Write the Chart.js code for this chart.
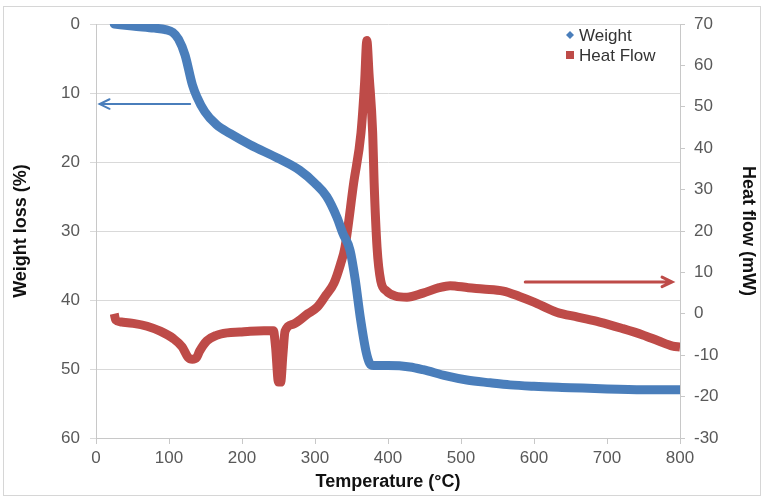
<!DOCTYPE html>
<html>
<head>
<meta charset="utf-8">
<script src="https://cdn.jsdelivr.net/npm/chart.js@4.4.0/dist/chart.umd.min.js"></script>
<style>
  html, body { margin: 0; padding: 0; background: #fff; }
</style>
</head>
<body>
<canvas id="tga" width="763" height="497"></canvas>
<script>
const weightTemp = [25, 50, 80, 95, 105, 113, 122, 132, 138, 149, 165, 184, 211, 250, 279, 300, 316, 330, 338, 348, 355, 362, 370, 375, 380, 400, 430, 448, 480, 508, 540, 567, 600, 650, 700, 750, 800];
const weightLoss = [0, 0.3, 0.6, 0.8, 1.2, 2.2, 4.5, 8.8, 10.5, 12.7, 14.6, 15.9, 17.5, 19.5, 21.2, 23.1, 25, 28, 30.3, 32.8, 37, 42.5, 47.5, 49.2, 49.5, 49.5, 49.7, 50.1, 51, 51.6, 52, 52.3, 52.5, 52.7, 52.9, 53, 53];

const heatTemp = [25, 27, 35, 51, 70, 88, 106, 118, 126, 132, 138, 142, 152, 165, 180, 197, 211, 230, 243, 246, 250, 253, 256, 259, 270, 290, 303, 315, 326, 335, 341, 353, 363, 368, 371, 374, 379, 381, 385, 390, 398, 410, 426, 448, 470, 485, 510, 530, 558, 580, 599, 631, 660, 690, 720, 749, 770, 790, 800];
const heatFlow = [0, -1.5, -2, -2.3, -3, -4.2, -6, -8, -10.5, -11, -10.5, -9, -6.5, -5.2, -4.6, -4.4, -4.2, -4.1, -4.1, -8, -16.5, -16.5, -10, -4.2, -2.5, 0, 1.6, 4.5, 7.4, 12, 16, 31.6, 43.7, 56, 66, 58, 43.7, 31.6, 16, 8, 5.5, 4.3, 4, 5, 6.3, 6.8, 6.3, 6, 5.5, 4.2, 2.9, 0.4, -0.8, -2, -3.5, -5.1, -6.5, -7.8, -8];

const tempTicks = [0, 100, 200, 300, 400, 500, 600, 700, 800];
const lossTicks = [0, 10, 20, 30, 40, 50, 60];
const flowTicks = [-30, -20, -10, 0, 10, 20, 30, 40, 50, 60, 70];

// annotation arrows, in data units (x, y on the axis they point at)
const weightArrow = { axis: "y", from: [129, 11.6], to: [5, 11.6] };
const heatArrow = { axis: "y1", from: [588, 7.7], to: [789, 7.7] };

const BLUE = "#4A7EBB";
const RED = "#BE4B48";

function toPoints(xs, ys) {
  return xs.map((x, i) => ({ x, y: ys[i] }));
}

function drawArrow(ctx, x1, y1, x2, y2, color, width) {
  const ang = Math.atan2(y2 - y1, x2 - x1);
  const head = 11;
  ctx.save();
  ctx.strokeStyle = color;
  ctx.lineWidth = width;
  ctx.lineCap = "round";
  ctx.beginPath();
  ctx.moveTo(x1, y1);
  ctx.lineTo(x2, y2);
  ctx.moveTo(x2 - head * Math.cos(ang - 0.45), y2 - head * Math.sin(ang - 0.45));
  ctx.lineTo(x2, y2);
  ctx.lineTo(x2 - head * Math.cos(ang + 0.45), y2 - head * Math.sin(ang + 0.45));
  ctx.stroke();
  ctx.restore();
}

const extras = {
  id: "extras",
  beforeDraw(chart) {
    const ctx = chart.ctx;
    ctx.save();
    ctx.fillStyle = "#fff";
    ctx.fillRect(0, 0, chart.width, chart.height);
    ctx.strokeStyle = "#d6d6d6";
    ctx.lineWidth = 1;
    ctx.strokeRect(3.5, 6.5, chart.width - 6, chart.height - 8);
    ctx.restore();
  },
  afterDatasetsDraw(chart) {
    const ctx = chart.ctx;
    const sx = chart.scales.x;
    [[weightArrow, BLUE, 2], [heatArrow, RED, 3]].forEach(([a, col, w]) => {
      const sy = chart.scales[a.axis];
      drawArrow(ctx,
        sx.getPixelForValue(a.from[0]), sy.getPixelForValue(a.from[1]),
        sx.getPixelForValue(a.to[0]), sy.getPixelForValue(a.to[1]), col, w);
    });

    // legend, top right inside the plot
    const area = chart.chartArea;
    const lx = area.right - 110;
    const ly = area.top + 11;
    ctx.save();
    ctx.font = "17px 'Liberation Sans', Arial, sans-serif";
    ctx.textBaseline = "middle";
    chart.data.datasets.forEach((ds, i) => {
      const y = ly + i * 20;
      ctx.fillStyle = ds.borderColor;
      if (i === 0) {
        ctx.beginPath();
        ctx.moveTo(lx, y - 4);
        ctx.lineTo(lx + 4, y);
        ctx.lineTo(lx, y + 4);
        ctx.lineTo(lx - 4, y);
        ctx.closePath();
        ctx.fill();
      } else {
        ctx.fillRect(lx - 4, y - 4, 8, 8);
      }
      ctx.fillStyle = "#333";
      ctx.fillText(ds.label, lx + 9, y + 1);
    });
    ctx.restore();
  }
};

const tickFont = { family: "'Liberation Sans', Arial, sans-serif", size: 17 };
const titleFont = { family: "'Liberation Sans', Arial, sans-serif", size: 18, weight: "bold" };

new Chart(document.getElementById("tga"), {
  type: "line",
  data: {
    datasets: [
      {
        label: "Weight",
        data: toPoints(weightTemp, weightLoss),
        yAxisID: "y",
        borderColor: BLUE,
        borderWidth: 9,
        borderJoinStyle: "round",
        borderCapStyle: "round",
        pointRadius: 0,
        cubicInterpolationMode: "monotone"
      },
      {
        label: "Heat Flow",
        data: toPoints(heatTemp, heatFlow),
        yAxisID: "y1",
        borderColor: RED,
        borderWidth: 9,
        borderJoinStyle: "round",
        borderCapStyle: "butt",
        pointRadius: 0,
        cubicInterpolationMode: "monotone"
      }
    ]
  },
  options: {
    responsive: false,
    animation: false,
    layout: { padding: { left: 6, right: 4, top: 24, bottom: 4 } },
    plugins: { legend: { display: false }, tooltip: { enabled: false } },
    scales: {
      x: {
        type: "linear",
        min: 0, max: 800,
        afterBuildTicks: s => { s.ticks = tempTicks.map(v => ({ value: v })); },
        afterFit: s => { s.height = 55; },
        grid: { drawOnChartArea: false, color: "#c8c8c8", tickLength: 6 },
        border: { color: "#c8c8c8" },
        ticks: { font: tickFont, color: "#595959", padding: 4, maxRotation: 0 },
        title: { display: true, text: "Temperature (°C)", font: titleFont, color: "#111", padding: { top: 2, bottom: 0 } }
      },
      y: {
        position: "left",
        reverse: true,
        min: 0, max: 60,
        afterBuildTicks: s => { s.ticks = lossTicks.map(v => ({ value: v })); },
        afterFit: s => { s.width = 90; },
        grid: { color: "#d9d9d9", tickLength: 6 },
        border: { color: "#c8c8c8" },
        ticks: { font: tickFont, color: "#595959", padding: 10 },
        title: { display: true, text: "Weight loss (%)", font: titleFont, color: "#111", padding: { top: 4, bottom: 0 } }
      },
      y1: {
        position: "right",
        min: -30, max: 70,
        afterBuildTicks: s => { s.ticks = flowTicks.map(v => ({ value: v })); },
        afterFit: s => { s.width = 79; },
        grid: { drawOnChartArea: false, color: "#c8c8c8", tickLength: 5 },
        border: { color: "#c8c8c8" },
        ticks: { font: tickFont, color: "#595959", padding: 9 },
        title: { display: true, text: "Heat flow (mW)", font: titleFont, color: "#111", padding: { top: 0, bottom: 0 } }
      }
    }
  },
  plugins: [extras]
});
</script>
</body>
</html>
